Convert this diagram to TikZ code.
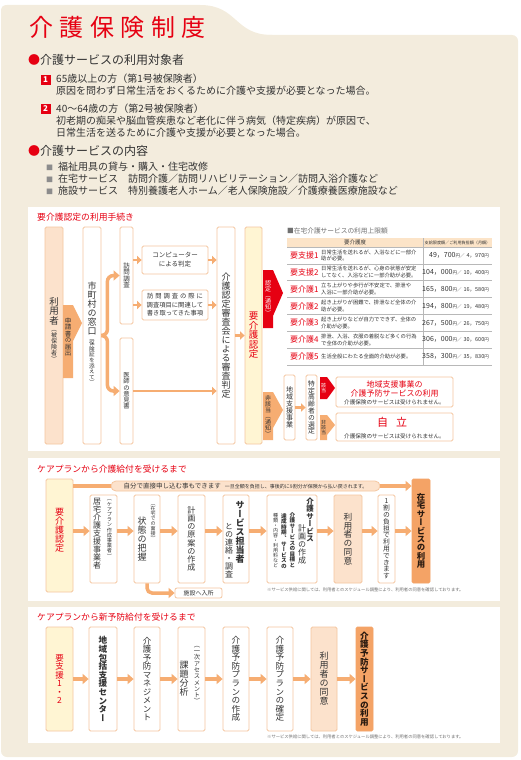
\documentclass[tikz,border=0pt]{standalone}
\usepackage{fontspec}
\setmainfont{Noto Sans CJK JP}
\newfontfamily\tatefont{Noto Sans CJK JP}[RawFeature=+vert]
\usetikzlibrary{arrows.meta}

\definecolor{kred}{HTML}{E60012}
\definecolor{panelbeige}{HTML}{F3ECDD}
\definecolor{peachline}{HTML}{F5C6A0}
\definecolor{peachfill}{HTML}{FCE2CC}
\definecolor{yellowfill}{HTML}{FFF5D3}
\definecolor{orangefill}{HTML}{F4A366}
\definecolor{arroworange}{HTML}{F6AD72}
\definecolor{textgray}{HTML}{333333}
\definecolor{textdark}{HTML}{2A1A10}
\definecolor{notegray}{HTML}{707070}
\definecolor{rulegray}{HTML}{B8B8B8}
\definecolor{headfill}{HTML}{FCE4C8}
\definecolor{sqgray}{HTML}{8C8C8C}

\newcommand\fsz[1]{\fontsize{#1}{#1}\selectfont}
\newcommand\kingaku[2]{{\fsz{7}#1}{\fsz{4.5}円／\kern2pt}{\fsz{5.5}#2}{\fsz{4.5}円}}
% vertical (tategaki) text: one character per line
\makeatletter
\def\tate@end{\tate@end}
\newcommand\tate[1]{\vbox{\tatefont\baselineskip=1em\lineskip=0pt\lineskiplimit=-\maxdimen
  \tate@next#1\tate@end}}
\def\tate@next#1{\ifx\tate@end#1\else\hbox to 1em{\hss#1\hss}\expandafter\tate@next\fi}
\makeatother

\begin{document}
\begin{tikzpicture}[x=1pt, y=-1pt,
    fbox/.style={rectangle, rounded corners=1.5pt, draw=peachline, fill=white,
                 line width=0.8pt, inner sep=1pt, text=textgray},
    ybox/.style={fbox, fill=yellowfill, text=kred},
    pbox/.style={fbox, fill=peachfill},
    obox/.style={fbox, fill=orangefill, draw=orangefill, text=textdark},
    tatetext/.style={inner sep=0pt, text=textgray},
    item/.style={anchor=west, inner sep=0pt, font=\fsz{10}, text=textgray},
    numsq/.style={fill=kred, text=white, minimum size=10pt, inner sep=0pt, font=\fsz{8}\bfseries},
    subtitle/.style={anchor=west, inner sep=0pt, font=\fsz{8.8}, text=kred},
    note/.style={anchor=west, inner sep=0pt, font=\fsz{4.3}, text=notegray},
    lvl/.style={anchor=west, inner sep=0pt, text=kred, font=\fsz{8}},
    desc/.style={anchor=west, inner sep=0pt, align=left, text=textgray,
                 font=\fontsize{5.3}{6.8}\selectfont},
    amt/.style={anchor=east, inner sep=0pt, text=textgray},
    flowline/.style={draw=arroworange, line width=3.5pt},
    flowarrow/.style={flowline, -{Triangle[length=6pt,width=10pt]}},
    smallarrow/.style={draw=arroworange, line width=2.6pt, -{Triangle[length=4.5pt,width=8pt]}}
]
\useasboundingbox (0,0) rectangle (521,760);

% background panels
\fill[panelbeige, rounded corners=6pt] (1,35) rectangle (518,757);
\fill[panelbeige] (1,40) -- (1,11) .. controls (1,7) and (3,5) .. (7,5) -- (200,5)
  .. controls (238,5) and (234,35) .. (272,35) -- (272,40) -- cycle;
\fill[white] (28,207) rectangle (500,451);
\fill[white] (28,458) rectangle (500,601);
\fill[white] (28,607) rectangle (500,743);

% title and outline
\node[anchor=west, inner sep=0pt, text=kred, font=\fsz{24}] (title) at (29,27)
  {介\kern6.5pt 護\kern6.5pt 保\kern6.5pt 険\kern6.5pt 制\kern6.5pt 度};
\node[anchor=west, inner sep=0pt, font=\fsz{12}, text=textgray] (head1) at (28,60)
  {\textcolor{kred}{●}介護サービスの利用対象者};
\node[numsq] (num1) at (45.5,79.5) {1};
\node[item] (item1a) at (56,79) {65歳以上の方（第1号被保険者）};
\node[item] (item1b) at (56,91) {原因を問わず日常生活をおくるために介護や支援が必要となった場合。};
\node[numsq] (num2) at (45.5,109) {2};
\node[item] (item2a) at (56,109) {40～64歳の方（第2号被保険者）};
\node[item] (item2b) at (56,121) {初老期の痴呆や脳血管疾患など老化に伴う病気（特定疾病）が原因で、};
\node[item] (item2c) at (56,133) {日常生活を送るために介護や支援が必要となった場合。};
\node[anchor=west, inner sep=0pt, font=\fsz{12}, text=textgray] (head2) at (28,151)
  {\textcolor{kred}{●}介護サービスの内容};
\node[item] (list1) at (46,167) {{\fsz{7}\color{sqgray}■}\hspace{5pt}福祉用具の貸与・購入・住宅改修};
\node[item] (list2) at (46,179) {{\fsz{7}\color{sqgray}■}\hspace{5pt}在宅サービス　訪問介護／訪問リハビリテーション／訪問入浴介護など};
\node[item] (list3) at (46,191) {{\fsz{7}\color{sqgray}■}\hspace{5pt}施設サービス　特別養護老人ホーム／老人保険施設／介護療養医療施設など};

% 要介護認定の利用手続き
\node[subtitle] (sub1) at (37,217) {要介護認定の利用手続き};
\node[pbox, minimum width=18pt, minimum height=217pt] (riyosha) at (54,335.5) {};
\node[tatetext, font=\fsz{9.5}] (riyoshaA) at (54,311) {\tate{利用者}};
\node[tatetext, font=\fsz{6}] (riyoshaB) at (54,345.5) {\tate{（被保険者）}};
\fill[arroworange] (63,305) -- (73,305) -- (82,323) -- (73,341) -- (73,378) -- (63,378) -- cycle;
\node[tatetext, font=\fsz{6.5}] (shinsei) at (68,337) {\tate{申請書の届出}};
\node[fbox, minimum width=18pt, minimum height=217pt] (madoguchi) at (92,335.5) {};
\node[tatetext, font=\fsz{9}] (madoguchiA) at (92,308.5) {\tate{市町村の窓口}};
\node[tatetext, font=\fsz{5.6}] (madoguchiB) at (92,362) {\tate{（保険証を添えて）}};
\node[fbox, minimum width=13pt, minimum height=97pt, font=\fsz{6.5}] (homon) at (126.5,275.5) {\tate{訪問調査}};
\node[fbox, minimum width=13pt, minimum height=106pt, font=\fsz{6.3}] (ishi) at (126.5,391) {\tate{医師の意見書}};
\node[fbox, minimum width=66pt, minimum height=28pt, align=center,
      font=\fontsize{6.5}{9}\selectfont] (comp) at (175,260) {コンピューター\\による判定};
\node[fbox, minimum width=66pt, minimum height=30pt, align=center,
      font=\fontsize{6.3}{8.5}\selectfont] (jiko) at (175,305)
  {\makebox[56pt][s]{訪\hfil 問\hfil 調\hfil 査\hfil の\hfil 際\hfil に}\\調査項目に関連して\\書き取ってきた事項};
\node[fbox, minimum width=18pt, minimum height=217pt, font=\fsz{9}] (shinsa) at (226,335.5)
  {\tate{介護認定審査会による審査判定}};
\node[ybox, minimum width=17pt, minimum height=217pt, font=\fsz{9.5}] (nintei) at (253.5,335.5)
  {\tate{要介護認定}};

\draw[flowarrow, rounded corners=6pt] (madoguchi.east) -- ++(6,0) |- (homon.west);
\draw[flowarrow, rounded corners=6pt] (madoguchi.east) -- ++(6,0) |- (ishi.west);
\draw[smallarrow] (homon.east |- comp.west) -- (comp.west);
\draw[smallarrow] (comp.east) -- (comp.east -| shinsa.west);
\draw[smallarrow] (homon.east |- jiko.west) -- (jiko.west);
\draw[smallarrow] (jiko.east) -- (jiko.east -| shinsa.west);
\draw[smallarrow] (ishi.east) -- (ishi.east -| shinsa.west);
\draw[smallarrow] (shinsa.east) -- (nintei.west);

\fill[kred] (263,270) -- (273,270) -- (283,293) -- (273,316) -- (273,328) -- (263,328) -- cycle;
\node[tatetext, text=white, font=\fsz{6}] (ninteitsuchi) at (268,298) {\tate{認定（通知）}};
\fill[arroworange] (263,392) -- (273,392) -- (283,410) -- (273,428) -- (273,440) -- (263,440) -- cycle;
\node[tatetext, font=\fsz{6}] (higaitou) at (268,416) {\tate{非該当（通知）}};

% 利用上限額の表
\node[anchor=west, inner sep=0pt, font=\fsz{6.7}, text=notegray] (tabletitle) at (287,230.5)
  {■在宅介護サービスの利用上限額};
\fill[headfill] (287,238) rectangle (492,247);
\node[inner sep=0pt, font=\fsz{5.5}, text=textgray] (headA) at (355,242.5) {要介護度};
\node[inner sep=0pt, font=\fsz{4.1}, text=textgray] (headB) at (457.5,242.5) {支給限度額／ご利用負担額（月額）};
\draw[rulegray, line width=0.5pt] (287,247) -- (492,247) (287,263.9) -- (492,263.9)
  (287,280.7) -- (492,280.7) (287,297.6) -- (492,297.6) (287,314.4) -- (492,314.4)
  (287,331.3) -- (492,331.3) (287,348.1) -- (492,348.1) (287,365) -- (492,365)
  (423,238) -- (423,365);
\node[lvl] (lv1) at (290,255.4) {要支援1};
\node[desc] (ds1) at (321,255.4) {日常生活を送れるが、入浴などに一部介\\助が必要。};
\node[amt] (am1) at (489,255.4) {\kingaku{49，700}{4，970}};
\node[lvl] (lv2) at (290,272.3) {要支援2};
\node[desc] (ds2) at (321,272.3) {日常生活を送れるが、心身の状態が安定\\してなく、入浴などに一部介助が必要。};
\node[amt] (am2) at (489,272.3) {\kingaku{104，000}{10，400}};
\node[lvl] (lv3) at (290,289.1) {要介護1};
\node[desc] (ds3) at (321,289.1) {立ち上がりや歩行が不安定で、排泄や\\入浴に一部介助が必要。};
\node[amt] (am3) at (489,289.1) {\kingaku{165，800}{16，580}};
\node[lvl] (lv4) at (290,306) {要介護2};
\node[desc] (ds4) at (321,306) {起き上がりが困難で、排泄など全体の介\\助が必要。};
\node[amt] (am4) at (489,306) {\kingaku{194，800}{19，480}};
\node[lvl] (lv5) at (290,322.9) {要介護3};
\node[desc] (ds5) at (321,322.9) {起き上がりなどが自力でできず、全体の\\介助が必要。};
\node[amt] (am5) at (489,322.9) {\kingaku{267，500}{26，750}};
\node[lvl] (lv6) at (290,339.7) {要介護4};
\node[desc] (ds6) at (321,339.7) {排泄、入浴、衣服の着脱など多くの行為\\で全体の介助が必要。};
\node[amt] (am6) at (489,339.7) {\kingaku{306，000}{30，600}};
\node[lvl] (lv7) at (290,356.6) {要介護5};
\node[desc] (ds7) at (321,356.6) {生活全般にわたる全面的介助が必要。};
\node[amt] (am7) at (489,356.6) {\kingaku{358，300}{35，830}};

% 非該当の流れ
\node[fbox, minimum width=11pt, minimum height=65pt, font=\fsz{7}] (chiiki) at (289.5,407.5) {\tate{地域支援事業}};
\node[fbox, minimum width=11pt, minimum height=65pt, font=\fsz{6.8}] (tokutei) at (311.5,407.5) {\tate{特定高齢者の選定}};
\draw[smallarrow] (chiiki.east) -- (tokutei.west);
\fill[kred] (320,377) -- (327,377) -- (335,388) -- (327,399) -- (320,399) -- cycle;
\node[tatetext, text=white, font=\fsz{5}] (gaitou) at (323.5,388) {\tate{該当}};
\fill[arroworange] (320,415) -- (327,415) -- (335,425) -- (327,435) -- (327,440) -- (320,440) -- cycle;
\node[tatetext, font=\fsz{5}] (higaitou2) at (323.5,428) {\tate{非該当}};
\node[fbox, minimum width=117pt, minimum height=30pt] (yobou1) at (394.5,392) {};
\node[inner sep=0pt, text=kred, font=\fsz{8}] (yobou1a) at (394.5,384) {地域支援事業の};
\node[inner sep=0pt, text=kred, font=\fsz{8}] (yobou1b) at (394.5,393) {介護予防サービスの利用};
\node[inner sep=0pt, text=textgray, font=\fsz{5.6}] (yobou1c) at (394.5,402.5) {介護保険のサービスは受けられません。};
\node[fbox, minimum width=117pt, minimum height=28pt] (jiritsu) at (394.5,427) {};
\node[inner sep=0pt, text=kred, font=\fsz{11}] (jiritsuA) at (392,422) {自\kern8pt 立};
\node[inner sep=0pt, text=textgray, font=\fsz{5.6}] (jiritsuB) at (394.5,436.5) {介護保険のサービスは受けられません。};

% ケアプランから介護給付を受けるまで
\node[subtitle] (sub2) at (37,469) {ケアプランから介護給付を受けるまで};
\coordinate (row2) at (0,531);
\node[ybox, minimum width=27pt, minimum height=113pt] (kaigo2) at (59.5,535.5) {};
\node[tatetext, text=kred, font=\fsz{9}] (kaigo2txt) at (59.5,530) {\tate{要介護認定}};
\node[fbox, minimum width=27pt, minimum height=88pt] (kyotaku) at (103.5,539) {};
\node[tatetext, font=\fsz{8}] (kyotakuA) at (97,534) {\tate{居宅介護支援事業者}};
\node[tatetext, font=\fsz{5.2}] (kyotakuB) at (109.5,529) {\tate{（ケアプラン作成事業者）}};
\node[fbox, minimum width=26pt, minimum height=88pt] (joutai) at (147,539) {};
\node[tatetext, font=\fsz{9}] (joutaiA) at (142,539.5) {\tate{状態の把握}};
\node[tatetext, font=\fsz{5}] (joutaiB) at (153,523) {\tate{（在宅での面接）}};
\node[fbox, minimum width=27pt, minimum height=88pt, font=\fsz{8.1}] (keikaku) at (191.5,539) {\tate{計画の原案の作成}};
\node[fbox, minimum width=26pt, minimum height=88pt] (renraku) at (236,539) {};
\node[tatetext, font=\fsz{9}\bfseries] (renrakuA) at (240,532) {\tate{サービス担当者}};
\node[tatetext, font=\fsz{8}] (renrakuB) at (229,551) {\tate{との連絡・調査}};
\node[fbox, minimum width=50pt, minimum height=88pt] (careplan) at (292,539) {};
\node[tatetext, font=\fsz{7.5}\bfseries] (careplanA) at (310,520) {\tate{介護サービス}};
\node[tatetext, font=\fsz{8}] (careplanB) at (302,544) {\tate{計画の作成}};
\node[tatetext, font=\fsz{5.6}\bfseries] (careplanC) at (292.5,540) {\tate{介護サービスの目標と}};
\node[tatetext, font=\fsz{5.6}\bfseries] (careplanD) at (284,541) {\tate{達成時期、サービスの}};
\node[tatetext, font=\fsz{5}] (careplanE) at (275.5,540.5) {\tate{種類・内容・利用料など}};
\node[pbox, minimum width=28pt, minimum height=88pt, font=\fsz{8.7}] (doui) at (348,539) {\tate{利用者の同意}};
\node[fbox, minimum width=17pt, minimum height=88pt, font=\fsz{6.8}] (futan) at (386.5,539) {\tate{1割の負担で利用できます}};
\node[obox, minimum width=18pt, minimum height=104pt, font=\fsz{8.4}\bfseries] (zaitaku) at (421,531) {\tate{在宅サービスの利用}};

\draw[flowarrow] (kaigo2.east |- row2) -- (kyotaku.west |- row2);
\draw[flowarrow] (kyotaku.east |- row2) -- (joutai.west |- row2);
\draw[flowarrow] (joutai.east |- row2) -- (keikaku.west |- row2);
\draw[flowarrow] (keikaku.east |- row2) -- (renraku.west |- row2);
\draw[flowarrow] (renraku.east |- row2) -- (careplan.west |- row2);
\draw[flowarrow] (careplan.east |- row2) -- (doui.west |- row2);
\draw[flowarrow] (doui.east |- row2) -- (futan.west |- row2);
\draw[flowarrow] (futan.east |- row2) -- (zaitaku.west |- row2);

\node[pbox, rounded corners=5pt, minimum width=269pt, minimum height=10pt, inner sep=0pt] (jibun) at (245.5,486)
  {{\fsz{6.5}自分で直接申し込む事もできます}\hspace{4pt}{\fsz{5}一旦全額を負担し、事後的に9割分が保険から払い戻されます。}};
\draw[flowline] (kaigo2.east |- jibun.west) -- (jibun.west);
\draw[flowarrow] (jibun.east) -- (jibun.east -| zaitaku.west);
\node[fbox, rounded corners=2pt, minimum width=47pt, minimum height=10pt, inner sep=0pt, font=\fsz{6}] (shisetsu) at (198.5,593) {施設へ入所};
\draw[flowarrow, rounded corners=5pt] (joutai.south) |- (shisetsu.west);
\node[note] (note2) at (267,590) {※サービス供給に関しては、利用者とのスケジュール調整により、利用者の同意を確認しております。};

% ケアプランから新予防給付を受けるまで
\node[subtitle] (sub3) at (37,617) {ケアプランから新予防給付を受けるまで};
\node[ybox, minimum width=27pt, minimum height=104pt, font=\fsz{8.5}] (shien) at (59.5,679) {\tate{要支援1・2}};
\node[fbox, minimum width=28pt, minimum height=104pt, font=\fsz{8.6}\bfseries] (houkatsu) at (103,679) {\tate{地域包括支援センター}};
\node[fbox, minimum width=26pt, minimum height=104pt, font=\fsz{8.5}] (manage) at (147,679) {\tate{介護予防マネジメント}};
\node[fbox, minimum width=27pt, minimum height=104pt] (kadai) at (191.5,679) {};
\node[tatetext, font=\fsz{9}] (kadaiA) at (184,678.5) {\tate{課題分析}};
\node[tatetext, font=\fsz{6.3}] (kadaiB) at (197,675) {\tate{（一次アセスメント）}};
\node[fbox, minimum width=26pt, minimum height=104pt, font=\fsz{8.6}] (sakusei) at (236,679) {\tate{介護予防プランの作成}};
\node[fbox, minimum width=26pt, minimum height=104pt, font=\fsz{8.6}] (kakutei) at (280,679) {\tate{介護予防プランの確定}};
\node[pbox, minimum width=26pt, minimum height=104pt, font=\fsz{9}] (doui3) at (324,679) {\tate{利用者の同意}};
\node[obox, minimum width=17pt, minimum height=104pt, font=\fsz{8.6}\bfseries] (yobou3) at (364.5,679) {\tate{介護予防サービスの利用}};

\draw[flowarrow] (shien.east) -- (houkatsu.west);
\draw[flowarrow] (houkatsu.east) -- (manage.west);
\draw[flowarrow] (manage.east) -- (kadai.west);
\draw[flowarrow] (kadai.east) -- (sakusei.west);
\draw[flowarrow] (sakusei.east) -- (kakutei.west);
\draw[flowarrow] (kakutei.east) -- (doui3.west);
\draw[flowarrow] (doui3.east) -- (yobou3.west);
\node[note] (note3) at (267,737) {※サービス供給に関しては、利用者とのスケジュール調整により、利用者の同意を確認しております。};
\end{tikzpicture}
\end{document}
